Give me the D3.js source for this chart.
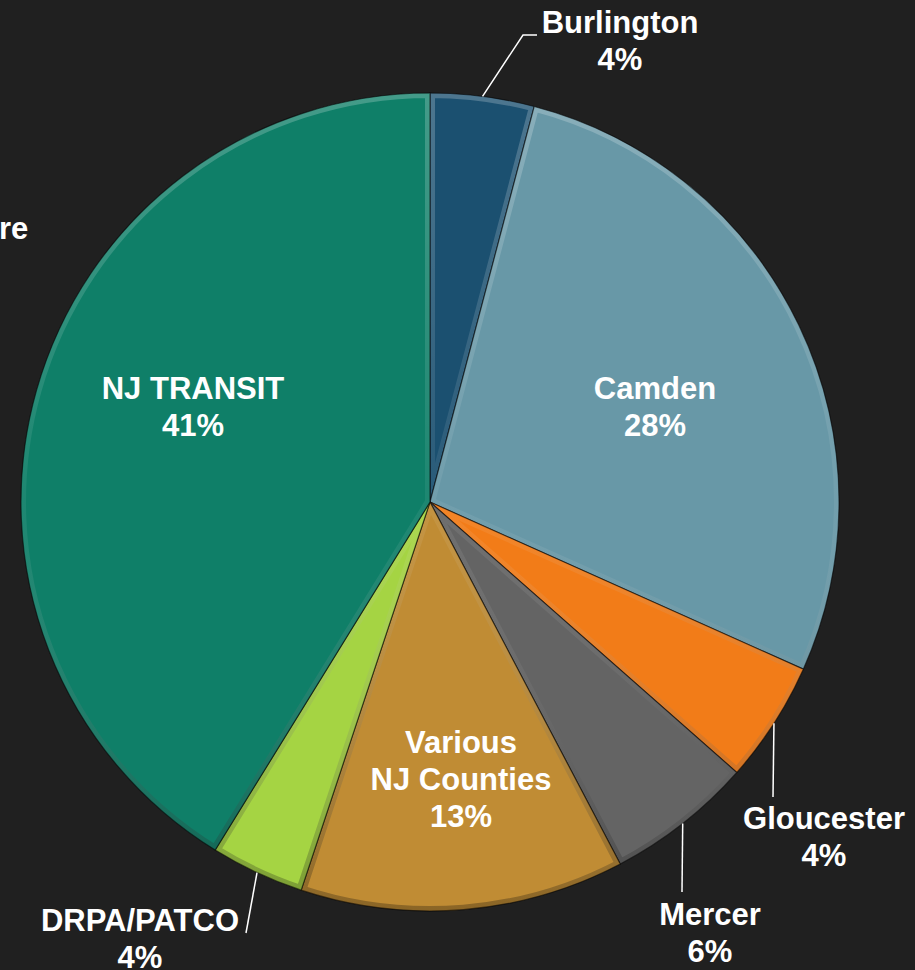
<!DOCTYPE html>
<meta charset="utf-8">
<script src="https://d3js.org/d3.v7.min.js"></script>
<style type="text/css">
body { margin: 0; background: #202020; }
.slice-label { font-family: Arial, "Liberation Sans", Helvetica, sans-serif; font-weight: bold; font-size: 31px; fill: #fff; }
.leader { stroke: #fff; stroke-width: 1.5px; fill: none; }
</style>
<body></body>
<script>

// shares (clockwise from 12 o'clock)
var categories = ["Burlington", "Camden", "Gloucester", "Mercer", "Various NJ Counties", "DRPA/PATCO", "NJ TRANSIT"];
var shares = [4.1, 27.6, 4.8, 5.8, 12.8, 3.7, 41.2];
var pctLabels = ["4%", "28%", "4%", "6%", "13%", "4%", "41%"];
var colors = ["#1b5070", "#6898a7", "#f27c18", "#646464", "#c08c34", "#a5d443", "#0f7f68"];

var width = 915, height = 970;
var cx = 430, cy = 502, radius = 409;

// label placement: inside slices, or outside with a leader line
var layout = {
  "Burlington":          { x: 620, y: 33,  lines: ["Burlington"], leader: [[523, 35], [537, 35]] },
  "Camden":              { x: 655, y: 399, lines: ["Camden"] },
  "Gloucester":          { x: 824, y: 829, lines: ["Gloucester"], leader: [[773, 797]] },
  "Mercer":              { x: 710, y: 925, lines: ["Mercer"], leader: [[682, 892]] },
  "Various NJ Counties": { x: 461, y: 753, lines: ["Various", "NJ Counties"] },
  "DRPA/PATCO":          { x: 140, y: 931, lines: ["DRPA/PATCO"], leader: [[246, 933]] },
  "NJ TRANSIT":          { x: 193, y: 399, lines: ["NJ TRANSIT"] }
};

var svg = d3.select("body").append("svg")
    .attr("width", width)
    .attr("height", height);

var defs = svg.append("defs");

// gradient lives in the pie group's coordinates (centre at 0,0)
var grad = defs.append("linearGradient")
    .attr("id", "bevel")
    .attr("gradientUnits", "userSpaceOnUse")
    .attr("x1", 0).attr("y1", -radius)
    .attr("x2", 0).attr("y2", radius);
grad.append("stop").attr("offset", "0%").attr("stop-color", "#fff").attr("stop-opacity", 0.22);
grad.append("stop").attr("offset", "50%").attr("stop-color", "#fff").attr("stop-opacity", 0.06);
grad.append("stop").attr("offset", "100%").attr("stop-color", "#000").attr("stop-opacity", 0.28);

var data = categories.map(function(c, i) {
  return { name: c, value: shares[i], pct: pctLabels[i], color: colors[i] };
});

var pie = d3.pie()
    .sort(null)
    .value(function(d) { return d.value; });

var arc = d3.arc()
    .innerRadius(0)
    .outerRadius(radius);

var arcs = pie(data);

arcs.forEach(function(a, i) {
  defs.append("clipPath")
      .attr("id", "clip" + i)
    .append("path")
      .attr("d", arc(a));
});

var g = svg.append("g")
    .attr("transform", "translate(" + cx + "," + cy + ")");

var slice = g.selectAll(".slice")
    .data(arcs)
    .enter().append("g")
    .attr("class", "slice");

slice.append("path")
    .attr("d", arc)
    .style("fill", function(d) { return d.data.color; });

// soft bevelled edge, clipped to each wedge
slice.append("path")
    .attr("d", arc)
    .attr("clip-path", function(d, i) { return "url(#clip" + i + ")"; })
    .style("fill", "none")
    .style("stroke", "url(#bevel)")
    .style("stroke-width", 10);

slice.append("path")
    .attr("d", arc)
    .style("fill", "none")
    .style("stroke", "rgba(0,0,0,0.55)")
    .style("stroke-width", 1.2);

// leader lines start on the rim at the middle of the wedge
var labels = svg.append("g");

arcs.forEach(function(a) {
  var l = layout[a.data.name];
  if (l.leader) {
    var mid = (a.startAngle + a.endAngle) / 2;
    var pts = [[cx + radius * Math.sin(mid), cy - radius * Math.cos(mid)]].concat(l.leader);
    labels.append("path")
        .attr("class", "leader")
        .attr("d", d3.line()(pts));
  }
  var t = labels.append("text")
      .attr("class", "slice-label")
      .attr("text-anchor", "middle")
      .attr("x", l.x)
      .attr("y", l.y);
  l.lines.concat([a.data.pct]).forEach(function(line, j) {
    t.append("tspan")
        .attr("x", l.x)
        .attr("dy", j === 0 ? 0 : 37)
        .text(line);
  });
});

// label of a slice from a neighbouring chart, clipped by the frame
svg.append("text")
    .attr("class", "slice-label")
    .attr("x", -1)
    .attr("y", 239)
    .text("re");

</script>
